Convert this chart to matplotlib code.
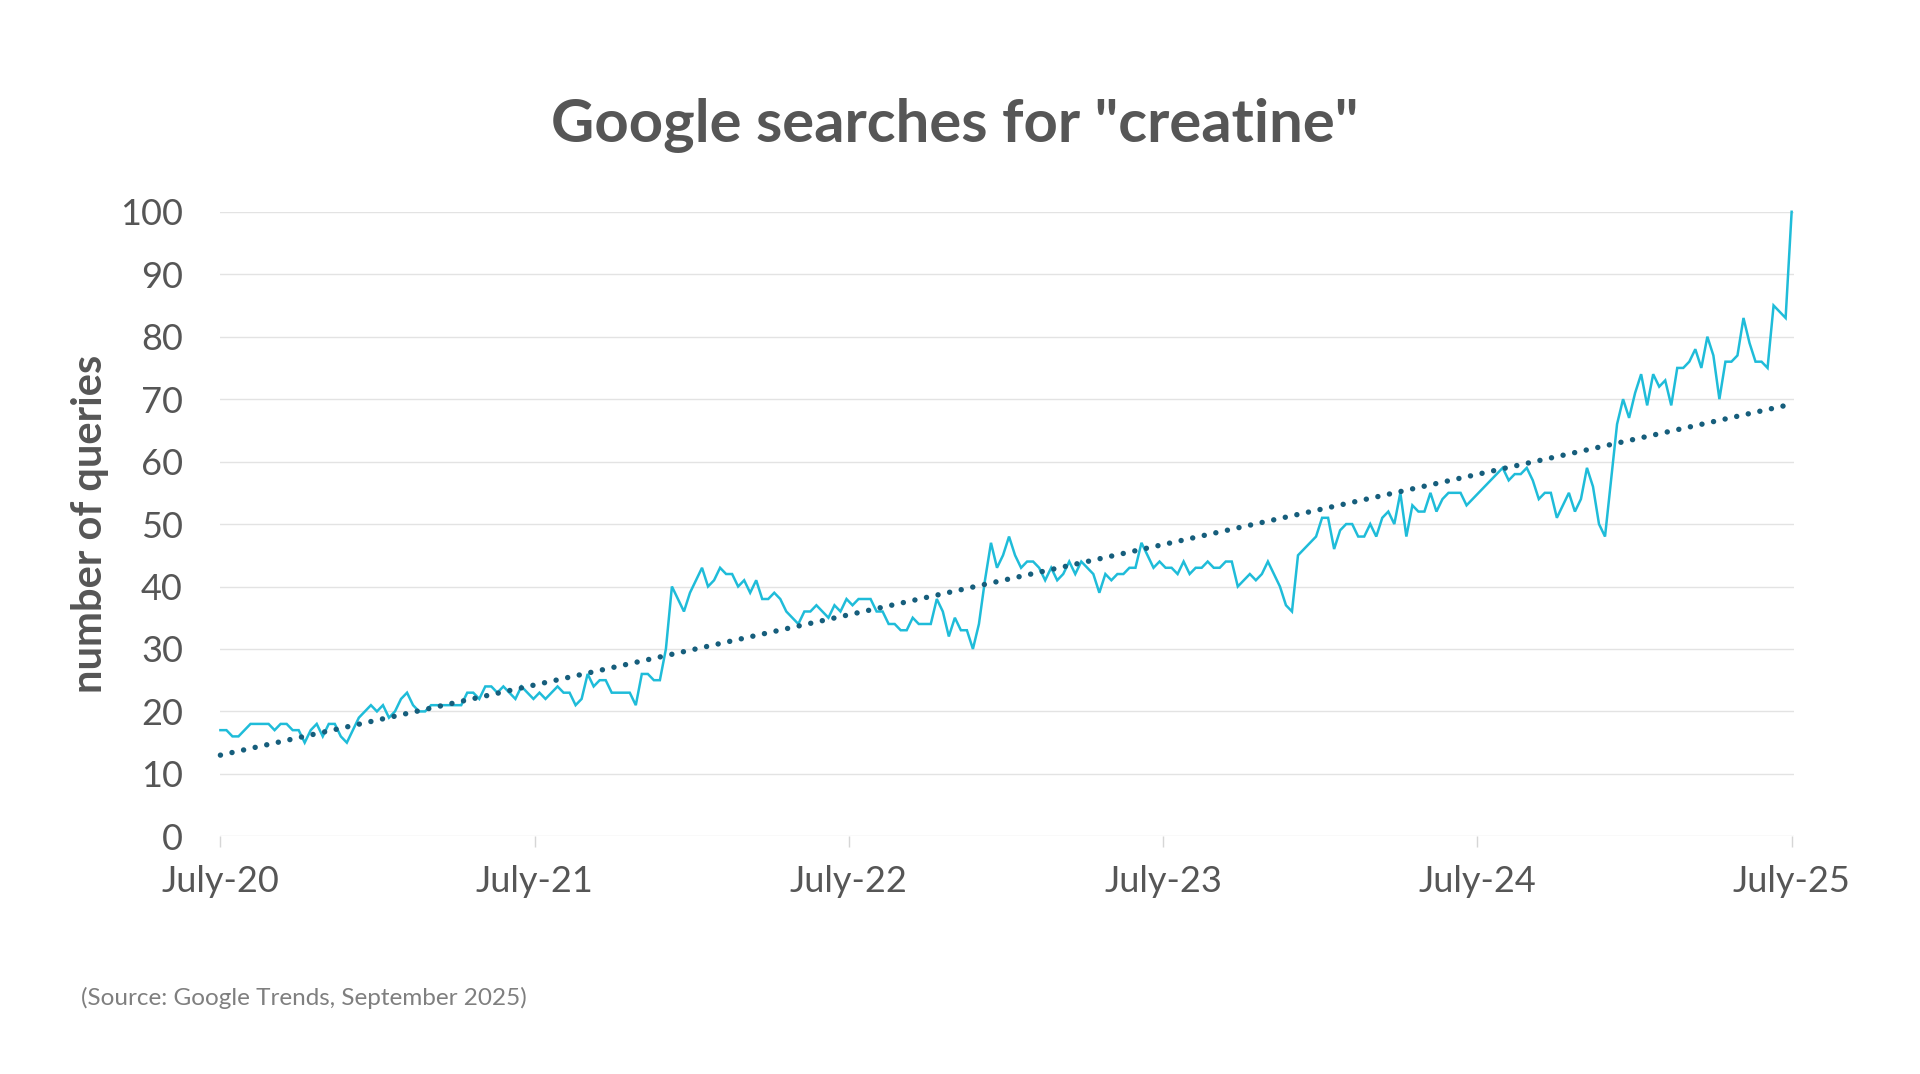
import numpy as np
import matplotlib
matplotlib.use("Agg")
import matplotlib.pyplot as plt

# ---------------------------------------------------------------
# DATA  (weekly Google Trends index, July 2020 -> July 2025)
# ---------------------------------------------------------------
queries = [
    17, 17, 16, 16, 17, 18, 18, 18, 18, 17, 18, 18, 17, 17, 15, 17, 18, 16, 18, 18,
    16, 15, 17, 19, 20, 21, 20, 21, 19, 20, 22, 23, 21, 20, 20, 21, 21, 21, 21, 21,
    21, 23, 23, 22, 24, 24, 23, 24, 23, 22, 24, 23, 22, 23, 22, 23, 24, 23, 23, 21,
    22, 26, 24, 25, 25, 23, 23, 23, 23, 21, 26, 26, 25, 25, 30, 40, 38, 36, 39, 41,
    43, 40, 41, 43, 42, 42, 40, 41, 39, 41, 38, 38, 39, 38, 36, 35, 34, 36, 36, 37,
    36, 35, 37, 36, 38, 37, 38, 38, 38, 36, 36, 34, 34, 33, 33, 35, 34, 34, 34, 38,
    36, 32, 35, 33, 33, 30, 34, 41, 47, 43, 45, 48, 45, 43, 44, 44, 43, 41, 43, 41,
    42, 44, 42, 44, 43, 42, 39, 42, 41, 42, 42, 43, 43, 47, 45, 43, 44, 43, 43, 42,
    44, 42, 43, 43, 44, 43, 43, 44, 44, 40, 41, 42, 41, 42, 44, 42, 40, 37, 36, 45,
    46, 47, 48, 51, 51, 46, 49, 50, 50, 48, 48, 50, 48, 51, 52, 50, 55, 48, 53, 52,
    52, 55, 52, 54, 55, 55, 55, 53, 54, 55, 56, 57, 58, 59, 57, 58, 58, 59, 57, 54,
    55, 55, 51, 53, 55, 52, 54, 59, 56, 50, 48, 57, 66, 70, 67, 71, 74, 69, 74, 72,
    73, 69, 75, 75, 76, 78, 75, 80, 77, 70, 76, 76, 77, 83, 79, 76, 76, 75, 85, 84,
    83, 100,
]
trend_ends = [13.0, 69.2]          # dotted linear trendline, start / end value
tick_labels = ["July-20", "July-21", "July-22", "July-23", "July-24", "July-25"]
y_ticks = [0, 10, 20, 30, 40, 50, 60, 70, 80, 90, 100]

TITLE = 'Google searches for "creatine"'
SOURCE = "(Source: Google Trends, September 2025)"

LINE_COL = "#1fbcd9"
TREND_COL = "#165e7c"
TEXT_COL = "#565656"
GRID_COL = "#e3e3e3"

plt.rcParams["font.family"] = ["Lato", "DejaVu Sans"]

# ---------------------------------------------------------------
# FIGURE
# ---------------------------------------------------------------
fig = plt.figure(figsize=(19.2, 10.74), dpi=100, facecolor="white")
ax = fig.add_axes([0.1148, 0.2213, 0.8196, 0.5815])

weeks = np.arange(len(queries))
n_last = weeks[-1]

ax.plot(weeks, queries, color=LINE_COL, lw=1.8, zorder=3, clip_on=False,
        solid_joinstyle="miter")

lw_tr = 3.9
ax.plot([0, n_last], trend_ends, color=TREND_COL, lw=lw_tr,
        linestyle=(0, (0.01, 8.5 / lw_tr)), dash_capstyle="round", zorder=4,
        clip_on=False)

ax.set_xlim(0, n_last + 0.4)
ax.set_ylim(0, 100)

ax.set_yticks(y_ticks)
ax.set_yticklabels([str(v) for v in y_ticks])
ax.yaxis.grid(True, color=GRID_COL, lw=1.0)
ax.set_axisbelow(True)

ax.set_xticks([i * n_last / 5 for i in range(6)])
ax.set_xticklabels(tick_labels)

ax.tick_params(axis="y", length=0, pad=27, labelsize=26, labelcolor=TEXT_COL)
ax.tick_params(axis="x", length=8, width=1, color="#d6d6d6", pad=13,
               labelsize=26, labelcolor=TEXT_COL)

for sp in ax.spines.values():
    sp.set_visible(False)

ax.set_ylabel("number of queries", fontsize=30, fontweight="bold",
              color=TEXT_COL, labelpad=8)

fig.text(0.497, 0.883, TITLE, ha="center", va="center", fontsize=43,
         fontweight="bold", color=TEXT_COL)
fig.text(0.042, 0.071, SOURCE, ha="left", va="center", fontsize=17.5,
         color="#7f7f7f")

fig.savefig("out.png", dpi=100, facecolor="white")
